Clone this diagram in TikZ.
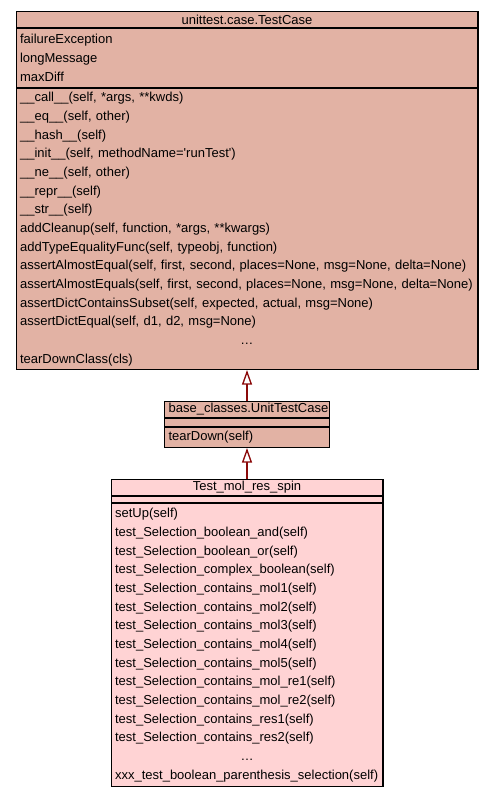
\documentclass[tikz,border=0pt]{standalone}
\usepackage{fontspec}
\setmainfont{Liberation Sans}
\usetikzlibrary{arrows.meta,positioning}
\definecolor{basefill}{HTML}{E2B2A4}
\definecolor{testfill}{HTML}{FFD3D4}
\definecolor{arrowred}{HTML}{8B0A0A}
\newcommand{\umlsize}{\fontsize{9.75}{14}\selectfont}
\newcommand{\umlgap}{\makebox[\hsize][c]{\ldots}}
\tikzset{
  umlpart/.style={
    draw=black,
    line width=0.9pt,
    inner xsep=3pt,
    inner ysep=0pt,
    font=\umlsize,
    align=left,
    text width=#1
  },
  umlhead/.style={umlpart=#1, align=center},
  basecls/.style={fill=basefill},
  testcls/.style={fill=testfill},
  generalize/.style={draw=arrowred, line width=1.8pt,
    -{Triangle[open, length=11pt, width=7.5pt, line width=1pt]}}
}

\begin{document}
\begin{tikzpicture}[x=0.75pt,y=-0.75pt]
\path[use as bounding box, fill=white] (0,0) rectangle (493,797);

% unittest.case.TestCase
\node[umlhead=340.35pt, basecls, minimum height=11.85pt, anchor=north] (tcHead) at (247,11) {unittest.case.TestCase};
\node[umlpart=340.35pt, basecls, minimum height=44.1pt, below=0pt of tcHead] (tcAttr)
  {failureException\\longMessage\\maxDiff};
\node[umlpart=340.35pt, basecls, minimum height=210.6pt, below=0pt of tcAttr] (tcMeth)
  {\_\_call\_\_(self, *args, **kwds)\\
   \_\_eq\_\_(self, other)\\
   \_\_hash\_\_(self)\\
   \_\_init\_\_(self, methodName=\textquotesingle runTest\textquotesingle)\\
   \_\_ne\_\_(self, other)\\
   \_\_repr\_\_(self)\\
   \_\_str\_\_(self)\\
   addCleanup(self, function, *args, **kwargs)\\
   addTypeEqualityFunc(self, typeobj, function)\\
   assertAlmostEqual(self, first, second, places=None, msg=None, delta=None)\\
   assertAlmostEquals(self, first, second, places=None, msg=None, delta=None)\\
   assertDictContainsSubset(self, expected, actual, msg=None)\\
   assertDictEqual(self, d1, d2, msg=None)\\
   \umlgap\\
   tearDownClass(cls)};

% base_classes.UnitTestCase
\node[umlhead=117.6pt, basecls, minimum height=11.85pt, anchor=north] (utHead) at (247,401) {base\_classes.UnitTestCase};
\node[umlpart=117.6pt, basecls, minimum height=5.85pt, below=0pt of utHead] (utAttr) {};
\node[umlpart=117.6pt, basecls, minimum height=14.85pt, below=0pt of utAttr] (utMeth) {tearDown(self)};

% Test_mol_res_spin
\node[umlhead=197.85pt, testcls, minimum height=11.85pt, anchor=north] (tmHead) at (247,479) {Test\_mol\_res\_spin};
\node[umlpart=197.85pt, testcls, minimum height=4.35pt, below=0pt of tmHead] (tmAttr) {};
\node[umlpart=197.85pt, testcls, minimum height=212.1pt, below=0pt of tmAttr] (tmMeth)
  {setUp(self)\\
   test\_Selection\_boolean\_and(self)\\
   test\_Selection\_boolean\_or(self)\\
   test\_Selection\_complex\_boolean(self)\\
   test\_Selection\_contains\_mol1(self)\\
   test\_Selection\_contains\_mol2(self)\\
   test\_Selection\_contains\_mol3(self)\\
   test\_Selection\_contains\_mol4(self)\\
   test\_Selection\_contains\_mol5(self)\\
   test\_Selection\_contains\_mol\_re1(self)\\
   test\_Selection\_contains\_mol\_re2(self)\\
   test\_Selection\_contains\_res1(self)\\
   test\_Selection\_contains\_res2(self)\\
   \umlgap\\
   xxx\_test\_boolean\_parenthesis\_selection(self)};

% inheritance
\draw[generalize] (utHead.north) -- (tcMeth.south);
\draw[generalize] (tmHead.north) -- (utMeth.south);
\end{tikzpicture}
\end{document}
